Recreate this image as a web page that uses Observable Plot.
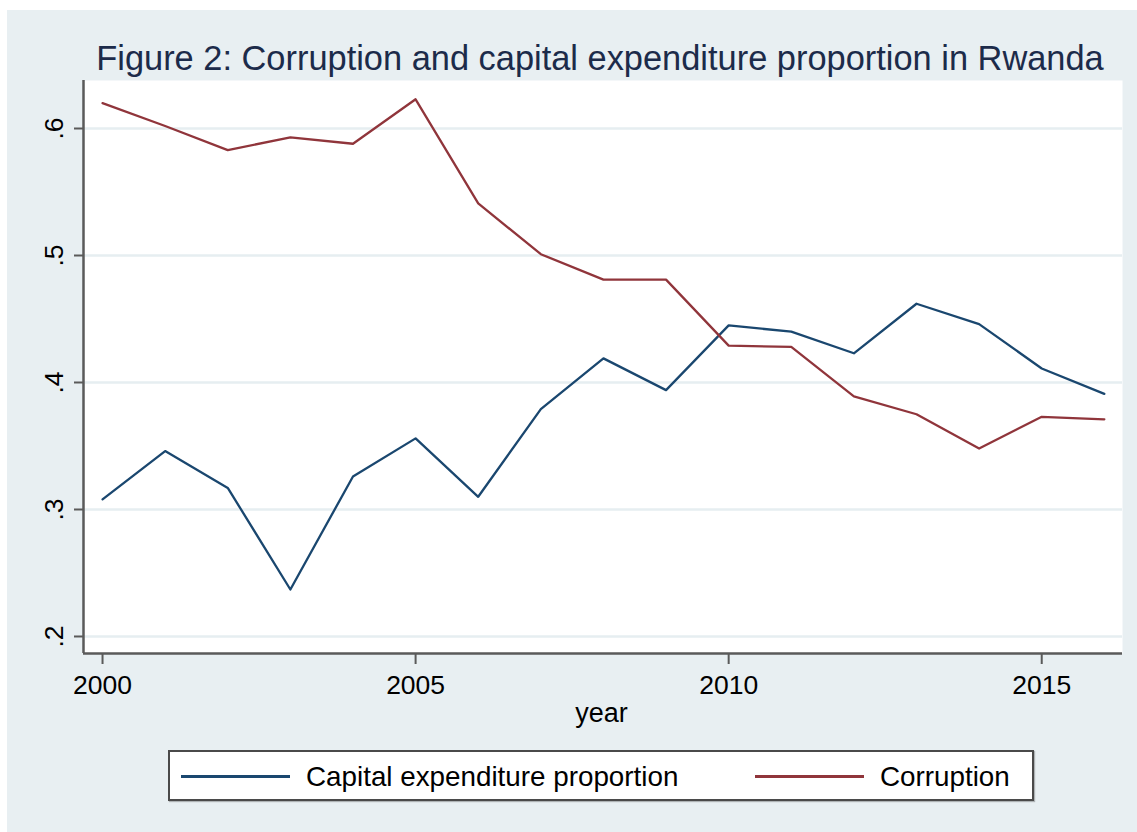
<!DOCTYPE html>
<html>
<head>
<meta charset="utf-8">
<script src="https://cdn.jsdelivr.net/npm/d3@7"></script>
<script src="https://cdn.jsdelivr.net/npm/@observablehq/plot@0.6"></script>
<style>
  body { margin: 0; background: #ffffff; font-family: "Liberation Sans", Arial, Helvetica, sans-serif; }
  #page { position: relative; width: 1137px; height: 832px; overflow: hidden; }
  #bg { position: absolute; left: 7px; top: 10px; width: 1130px; height: 822px; background: #e8eff2; }
  #chart { position: absolute; left: 0; top: 0; }
  #title { position: absolute; left: 0; top: 41px; width: 1200px; text-align: center;
           font-size: 34.4px; line-height: 34.4px; color: #1c2b4a; white-space: nowrap; }
  #xlabel { position: absolute; left: 0; top: 700px; width: 1203px; text-align: center;
            font-size: 27px; line-height: 27px; color: #000; }
  #legend { position: absolute; left: 168px; top: 750px; width: 862px; height: 47px;
            border: 2px solid #4a4a4a; background: #ffffff; box-shadow: 1px 1px 1px rgba(0,0,0,0.25); }
  .key { position: absolute; height: 3px; top: 23px; width: 109px; }
  .lab { position: absolute; top: 11px; font-size: 27.8px; line-height: 28px; color: #000; white-space: nowrap; }
</style>
</head>
<body>
<div id="page">
  <div id="bg"></div>
  <div id="chart"></div>
  <div id="title"></div>
  <div id="xlabel"></div>
  <div id="legend"></div>
</div>
<script>
// ---- data ----
const years = [2000, 2001, 2002, 2003, 2004, 2005, 2006, 2007, 2008, 2009, 2010, 2011, 2012, 2013, 2014, 2015, 2016];
const capitalExpenditure = [0.308, 0.346, 0.317, 0.237, 0.326, 0.356, 0.310, 0.379, 0.419, 0.394, 0.445, 0.440, 0.423, 0.462, 0.446, 0.411, 0.391];
const corruption = [0.620, 0.602, 0.583, 0.593, 0.588, 0.623, 0.541, 0.501, 0.481, 0.481, 0.429, 0.428, 0.389, 0.375, 0.348, 0.373, 0.371];
const seriesNames = ["Capital expenditure proportion", "Corruption"];
const seriesColors = ["#1a476f", "#90353b"];
const xTicks = [2000, 2005, 2010, 2015];
const yTicks = [0.2, 0.3, 0.4, 0.5, 0.6];
const xDomain = [1999.696, 2016.29];
const yDomain = [0.1866, 0.6378];
const titleText = "Figure 2: Corruption and capital expenditure proportion in Rwanda";
const xLabelText = "year";

// ---- build table ----
const rows = [];
years.forEach((yr, i) => {
  rows.push({year: yr, value: capitalExpenditure[i], series: seriesNames[0]});
});
years.forEach((yr, i) => {
  rows.push({year: yr, value: corruption[i], series: seriesNames[1]});
});

const axisColor = "#5a5a5a";
const gridColor = "#e6eef1";

const chart = Plot.plot({
  width: 1137,
  height: 832,
  marginLeft: 83,
  marginRight: 15,
  marginTop: 80,
  marginBottom: 179,
  style: {background: "transparent", fontFamily: "'Liberation Sans', Arial, Helvetica, sans-serif", fontSize: "26.5px", color: "#000", overflow: "visible"},
  x: {domain: xDomain},
  y: {domain: yDomain},
  color: {domain: seriesNames, range: seriesColors},
  marks: [
    Plot.frame({fill: "white", stroke: "none"}),
    Plot.ruleY(yTicks, {stroke: gridColor, strokeWidth: 2.5}),
    Plot.lineY(rows, {x: "year", y: "value", z: "series", stroke: "series", strokeWidth: 2.3}),
    Plot.ruleY([yDomain[0]], {stroke: axisColor, strokeWidth: 2.5}),
    Plot.ruleX([xDomain[0]], {stroke: axisColor, strokeWidth: 2.5}),
    Plot.axisX({ticks: xTicks, tickFormat: d3.format("d"), tickSize: 11, tickPadding: 11, stroke: axisColor, strokeWidth: 2, fill: "#000", label: null}),
    Plot.axisY({ticks: yTicks, tickFormat: d => d3.format(".1f")(d).replace(/^0/, ""), tickRotate: -90, tickSize: 9, tickPadding: 12, stroke: axisColor, strokeWidth: 2, fill: "#000", label: null})
  ]
});
document.getElementById("chart").appendChild(chart);
document.getElementById("title").textContent = titleText;
document.getElementById("xlabel").textContent = xLabelText;

// ---- legend ----
const legend = document.getElementById("legend");
const keyLefts = [11, 585];
const labLefts = [136, 710];
seriesNames.forEach((name, i) => {
  const k = document.createElement("div");
  k.className = "key";
  k.style.left = keyLefts[i] + "px";
  k.style.background = seriesColors[i];
  legend.appendChild(k);
  const l = document.createElement("div");
  l.className = "lab";
  l.style.left = labLefts[i] + "px";
  l.textContent = name;
  legend.appendChild(l);
});
</script>
</body>
</html>
